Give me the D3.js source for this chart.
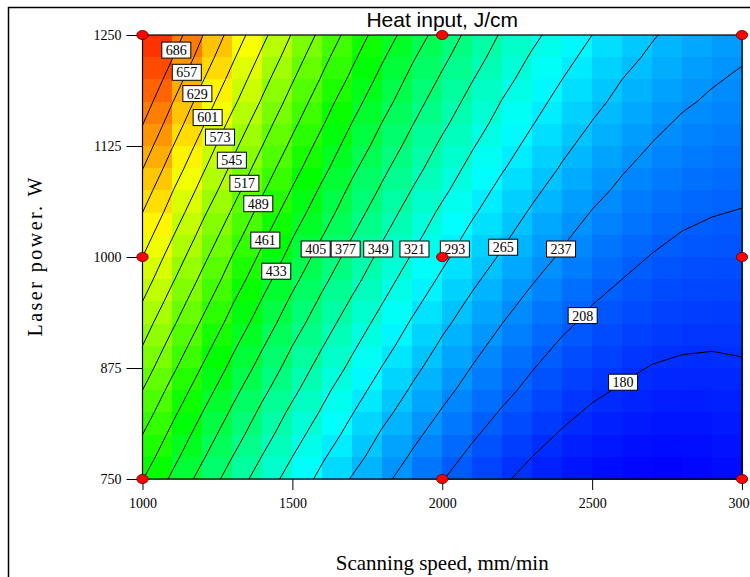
<!DOCTYPE html>
<html>
<head>
<meta charset="utf-8">
<script src="https://cdn.jsdelivr.net/npm/d3@7"></script>
<style>
  body { margin: 0; background: #fff; }
  svg { display: block; }
</style>
</head>
<body>
<svg id="chart" width="750" height="577"></svg>
<script>
// Grid of scanning speeds (mm/min), columns of the response surface
const speeds = [1000, 1100, 1200, 1300, 1400, 1500, 1600, 1700, 1800, 1900, 2000,
                2100, 2200, 2300, 2400, 2500, 2600, 2700, 2800, 2900, 3000];
// Grid of laser powers (W), rows of the response surface, top to bottom
const powers = [1250, 1225, 1200, 1175, 1150, 1125, 1100, 1075, 1050, 1025, 1000,
                975, 950, 925, 900, 875, 850, 825, 800, 775, 750];
// Heat input (J/cm) at each (power, speed) grid node
const heatInput = [
  [745, 701, 658, 618, 580, 543, 509, 477, 447, 419, 393, 368, 346, 327, 309, 293, 279, 267, 257, 249, 244],
  [731, 687, 645, 605, 567, 531, 497, 466, 436, 408, 383, 359, 338, 318, 301, 285, 272, 261, 251, 244, 239],
  [716, 672, 631, 592, 554, 519, 486, 455, 425, 398, 373, 350, 329, 310, 293, 278, 265, 255, 246, 239, 234],
  [701, 658, 617, 579, 542, 507, 474, 443, 415, 388, 363, 341, 320, 302, 285, 271, 259, 248, 240, 234, 230],
  [687, 644, 604, 565, 529, 495, 463, 432, 404, 378, 354, 332, 312, 294, 278, 264, 252, 242, 234, 229, 225],
  [672, 630, 590, 552, 517, 483, 451, 421, 394, 368, 344, 323, 303, 286, 270, 257, 246, 236, 229, 224, 221],
  [658, 616, 577, 540, 504, 471, 440, 410, 383, 358, 335, 314, 295, 278, 263, 250, 239, 230, 223, 219, 216],
  [643, 602, 564, 527, 492, 459, 428, 399, 373, 348, 326, 305, 286, 270, 255, 243, 233, 224, 218, 214, 212],
  [629, 589, 550, 514, 479, 447, 417, 389, 362, 338, 316, 296, 278, 262, 248, 236, 226, 219, 213, 209, 207],
  [615, 575, 537, 501, 467, 435, 406, 378, 352, 329, 307, 287, 270, 254, 241, 229, 220, 213, 207, 204, 203],
  [601, 561, 524, 488, 455, 424, 394, 367, 342, 319, 298, 279, 262, 247, 234, 223, 214, 207, 202, 199, 199],
  [587, 548, 511, 476, 443, 412, 383, 357, 332, 309, 289, 270, 253, 239, 226, 216, 208, 201, 197, 195, 195],
  [573, 534, 498, 463, 431, 400, 372, 346, 322, 300, 279, 261, 245, 231, 219, 209, 202, 196, 192, 190, 190],
  [558, 521, 485, 451, 419, 389, 361, 335, 312, 290, 270, 253, 237, 224, 212, 203, 195, 190, 187, 186, 186],
  [545, 507, 472, 438, 407, 377, 350, 325, 302, 281, 261, 244, 229, 216, 205, 196, 190, 185, 182, 181, 182],
  [531, 494, 459, 426, 395, 366, 339, 315, 292, 271, 253, 236, 221, 209, 198, 190, 184, 179, 177, 177, 178],
  [517, 480, 446, 413, 383, 355, 328, 304, 282, 262, 244, 228, 214, 202, 192, 184, 178, 174, 172, 172, 175],
  [503, 467, 433, 401, 371, 343, 318, 294, 272, 253, 235, 219, 206, 194, 185, 177, 172, 169, 167, 168, 171],
  [489, 454, 420, 389, 360, 332, 307, 284, 262, 243, 226, 211, 198, 187, 178, 171, 166, 163, 162, 164, 167],
  [476, 441, 408, 377, 348, 321, 296, 274, 253, 234, 217, 203, 190, 180, 171, 165, 160, 158, 158, 159, 163],
  [462, 428, 395, 365, 336, 310, 286, 263, 243, 225, 209, 195, 183, 173, 165, 159, 155, 153, 153, 155, 160]
];
// Contour levels (J/cm)
const levels = [180, 208, 237, 265, 293, 321, 349, 377, 405, 433, 461, 489, 517, 545, 573, 601, 629, 657, 686];
// Laser power at which each level's label sits on its line
const labelPower = [859, 934, 1009, 1011, 1009, 1009, 1009, 1009, 1009, 984, 1019, 1060, 1083, 1109, 1135, 1157, 1184, 1208, 1233];
// Design points of the experiment
const designSpeeds = [1000, 2000, 3000];
const designPowers = [750, 1000, 1250];
// Axis ticks
const xTicks = [1000, 1500, 2000, 2500, 3000];
const yTicks = [750, 875, 1000, 1125, 1250];

const svg = d3.select("#chart");
const serif = "'Liberation Serif', 'Times New Roman', serif";
const sans = "'Liberation Sans', Arial, sans-serif";

// Outer frame
svg.append("rect")
  .attr("x", 8.5).attr("y", 7.5).attr("width", 800).attr("height", 600)
  .attr("fill", "none").attr("stroke", "#000").attr("stroke-width", 1.5);

const x = d3.scaleLinear().domain(d3.extent(speeds)).range([142.5, 742]);
const y = d3.scaleLinear().domain(d3.extent(powers)).range([479, 35]);

const [lo, hi] = d3.extent(heatInput.flat());
const stops = ["#0000ff", "#00ffff", "#00ff00", "#ffff00", "#ff0000"];
const color = d3.scaleLinear()
  .domain(stops.map((_, k) => lo + k * (hi - lo) / (stops.length - 1)))
  .range(stops)
  .interpolate(d3.interpolateRgb);

// Filled grid cells
const cells = [];
for (let j = 0; j < powers.length - 1; j++) {
  for (let i = 0; i < speeds.length - 1; i++) {
    const v = (heatInput[j][i] + heatInput[j][i + 1] + heatInput[j + 1][i] + heatInput[j + 1][i + 1]) / 4;
    cells.push({ s0: speeds[i], s1: speeds[i + 1], p0: powers[j], p1: powers[j + 1], v });
  }
}
svg.append("g").selectAll("rect").data(cells).join("rect")
  .attr("x", d => x(d.s0))
  .attr("y", d => y(d.p0))
  .attr("width", d => x(d.s1) - x(d.s0) + 0.5)
  .attr("height", d => y(d.p1) - y(d.p0) + 0.5)
  .attr("fill", d => color(d.v))
  .attr("shape-rendering", "crispEdges");

// Contour lines
svg.append("clipPath").attr("id", "plot-clip")
  .append("rect")
  .attr("x", x.range()[0]).attr("y", y.range()[1])
  .attr("width", x.range()[1] - x.range()[0])
  .attr("height", y.range()[0] - y.range()[1]);

const ds = speeds[1] - speeds[0];
const dp = powers[1] - powers[0];
const gridToPx = (gx, gy) => [x(speeds[0] + (gx - 0.5) * ds), y(powers[0] + (gy - 0.5) * dp)];
const proj = d3.geoTransform({
  point(gx, gy) { const p = gridToPx(gx, gy); this.stream.point(p[0], p[1]); }
});
const path = d3.geoPath(proj);

const contours = d3.contours()
  .size([speeds.length, powers.length])
  .thresholds(levels)(heatInput.flat());

svg.append("g").attr("clip-path", "url(#plot-clip)")
  .selectAll("path").data(contours).join("path")
  .attr("d", path)
  .attr("fill", "none")
  .attr("stroke", "#000")
  .attr("stroke-width", 1);

// Plot border
svg.append("rect")
  .attr("x", x.range()[0]).attr("y", y.range()[1])
  .attr("width", x.range()[1] - x.range()[0])
  .attr("height", y.range()[0] - y.range()[1])
  .attr("fill", "none").attr("stroke", "#000").attr("stroke-width", 1.2);

// Contour labels placed where each line crosses its label power
const inside = (px, py) => px >= x.range()[0] - 0.01 && px <= x.range()[1] + 0.01 &&
                           py >= y.range()[1] - 0.01 && py <= y.range()[0] + 0.01;
function crossing(contour, power) {
  const yp = y(power);
  for (const poly of contour.coordinates) {
    for (const ring of poly) {
      const pts = ring.map(([gx, gy]) => gridToPx(gx, gy));
      for (let k = 1; k < pts.length; k++) {
        const [x1, y1] = pts[k - 1], [x2, y2] = pts[k];
        if (!inside(x1, y1) || !inside(x2, y2)) continue;
        if (y1 !== y2 && (y1 - yp) * (y2 - yp) <= 0) {
          return x1 + (yp - y1) / (y2 - y1) * (x2 - x1);
        }
      }
    }
  }
  return null;
}

const labelG = svg.append("g");
contours.forEach((c, k) => {
  const lx = crossing(c, labelPower[k]);
  if (lx == null) return;
  const ly = y(labelPower[k]);
  const g = labelG.append("g").attr("transform", `translate(${lx},${ly})`);
  const rect = g.append("rect");
  const t = g.append("text")
    .attr("text-anchor", "middle")
    .attr("dy", "0.35em")
    .attr("font-family", serif)
    .attr("font-size", 14)
    .attr("fill", "#000")
    .text(levels[k]);
  const w = t.node().getComputedTextLength() + 8;
  rect.attr("x", -w / 2).attr("y", -8).attr("width", w).attr("height", 16)
    .attr("fill", "#fff").attr("stroke", "#000").attr("stroke-width", 1);
});

// Axes
const xAxis = d3.axisBottom(x).tickValues(xTicks).tickFormat(d3.format("d"))
  .tickSize(11).tickPadding(8);
const yAxis = d3.axisLeft(y).tickValues(yTicks).tickFormat(d3.format("d"))
  .tickSize(16).tickPadding(5);

const gx = svg.append("g").attr("transform", `translate(0,${y.range()[0]})`).call(xAxis);
const gy = svg.append("g").attr("transform", `translate(${x.range()[0]},0)`).call(yAxis);
[gx, gy].forEach(g => {
  g.select(".domain").remove();
  g.selectAll(".tick line").attr("stroke", "#000");
  g.selectAll(".tick text").attr("font-family", serif).attr("font-size", 14).attr("fill", "#000");
});

// Design points
const design = [];
designSpeeds.forEach(s => designPowers.forEach(p => design.push({ s, p })));
svg.append("g").selectAll("ellipse").data(design).join("ellipse")
  .attr("cx", d => x(d.s)).attr("cy", d => y(d.p))
  .attr("rx", 5.7).attr("ry", 4.6)
  .attr("fill", "#ff0000").attr("stroke", "#5a0000").attr("stroke-width", 0.8);

// Titles
svg.append("text")
  .attr("x", (x.range()[0] + x.range()[1]) / 2).attr("y", 27)
  .attr("text-anchor", "middle")
  .attr("font-family", sans).attr("font-size", 21)
  .text("Heat input, J/cm");

svg.append("text")
  .attr("x", (x.range()[0] + x.range()[1]) / 2).attr("y", 570)
  .attr("text-anchor", "middle")
  .attr("font-family", serif).attr("font-size", 21)
  .text("Scanning speed, mm/min");

svg.append("text")
  .attr("transform", `translate(42,${(y.range()[0] + y.range()[1]) / 2}) rotate(-90)`)
  .attr("text-anchor", "middle")
  .attr("font-family", serif).attr("font-size", 20)
  .attr("textLength", 159).attr("lengthAdjust", "spacing")
  .text("Laser power. W");
</script>
</body>
</html>
